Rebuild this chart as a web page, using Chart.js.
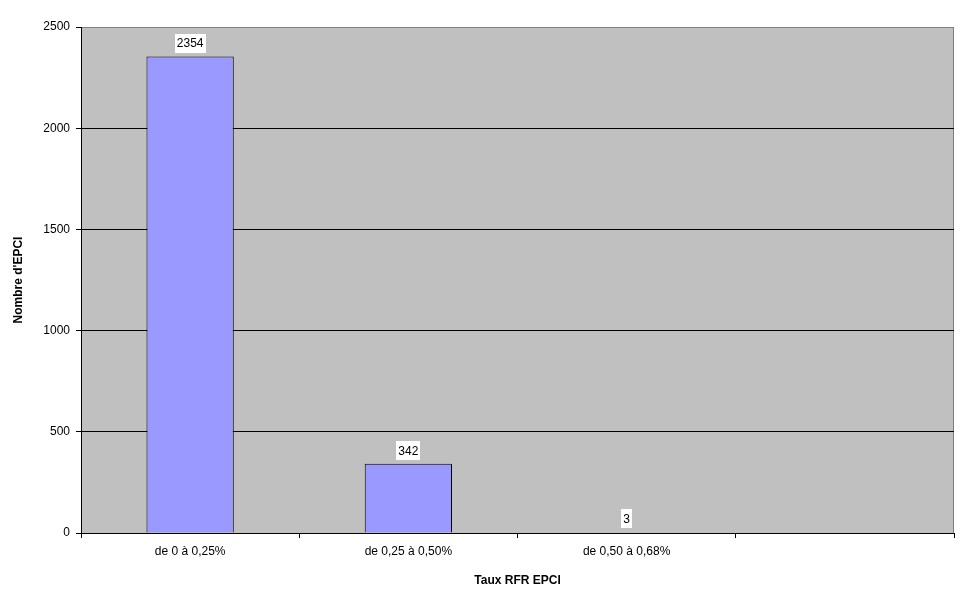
<!DOCTYPE html>
<html>
<head>
<meta charset="utf-8">
<script src="https://cdn.jsdelivr.net/npm/chart.js@4.4.0/dist/chart.umd.min.js"></script>
<style>
    html, body { margin: 0; padding: 0; background: #fff; }
    canvas { display: block; }
</style>
</head>
<body>
<canvas id="myChart" width="970" height="603"></canvas>
<script>
const labels = ['de 0 à 0,25%', 'de 0,25 à 0,50%', 'de 0,50 à 0,68%', ''];
const values = [2354, 342, 3, null];
const yTicks = [0, 500, 1000, 1500, 2000, 2500];

// grey plot background + grey top/right border
const plotBg = {
    id: 'plotBg',
    beforeDraw(chart) {
        const {ctx, chartArea: a} = chart;
        ctx.save();
        ctx.fillStyle = '#C0C0C0';
        ctx.fillRect(a.left, a.top, a.right - a.left, a.bottom - a.top);
        ctx.strokeStyle = '#808080';
        ctx.lineWidth = 1;
        ctx.beginPath();
        ctx.moveTo(a.left, a.top + 0.5);
        ctx.lineTo(a.right - 0.5, a.top + 0.5);
        ctx.lineTo(a.right - 0.5, a.bottom);
        ctx.stroke();
        ctx.restore();
    }
};

// value labels on white boxes above the bars
const valueLabels = {
    id: 'valueLabels',
    afterDatasetsDraw(chart) {
        const {ctx} = chart;
        const meta = chart.getDatasetMeta(0);
        ctx.save();
        ctx.font = '12px "Liberation Sans", Arial, sans-serif';
        ctx.textAlign = 'center';
        ctx.textBaseline = 'middle';
        meta.data.forEach((bar, i) => {
            const v = values[i];
            if (v === null) return;
            const txt = String(v);
            const w = ctx.measureText(txt).width + 4;
            const h = 19;
            const cy = bar.y - 4 - h / 2;
            ctx.fillStyle = '#fff';
            ctx.fillRect(Math.round(bar.x - w / 2), Math.round(cy - h / 2), Math.round(w), h);
            ctx.fillStyle = '#000';
            ctx.fillText(txt, bar.x, cy + 1);
        });
        ctx.restore();
    }
};

const config = {
    type: 'bar',
    data: {
        labels: labels,
        datasets: [{
            data: values,
            backgroundColor: '#9999FF',
            borderColor: '#000',
            borderWidth: 1,
            barPercentage: 0.4,
            categoryPercentage: 1,
        }]
    },
    options: {
        responsive: false,
        animation: false,
        layout: {
            padding: {top: 27, right: 16, left: 0, bottom: 0}
        },
        plugins: {
            legend: {display: false},
            tooltip: {enabled: false}
        },
        scales: {
            x: {
                grid: {
                    drawOnChartArea: false,
                    drawTicks: true,
                    tickLength: 5,
                    color: '#000',
                    offset: true
                },
                border: {color: '#000', width: 1},
                ticks: {
                    color: '#000',
                    padding: 6,
                    maxRotation: 0,
                    font: {family: '"Liberation Sans", Arial, sans-serif', size: 12}
                },
                title: {
                    display: true,
                    text: 'Taux RFR EPCI',
                    color: '#000',
                    font: {family: '"Liberation Sans", Arial, sans-serif', size: 12, weight: 'bold'},
                    padding: {top: 15, bottom: 15}
                },
                afterFit(scale) { scale.height = 70; }
            },
            y: {
                min: 0,
                max: 2500,
                afterBuildTicks(scale) {
                    scale.ticks = yTicks.map(v => ({value: v}));
                },
                grid: {
                    color: (c) => c.tick && c.tick.value === 2500 ? '#808080' : '#000',
                    tickColor: '#000',
                    tickLength: 5
                },
                border: {color: '#000', width: 1},
                ticks: {
                    color: '#000',
                    padding: 6,
                    callback: (v) => String(v),
                    font: {family: '"Liberation Sans", Arial, sans-serif', size: 12}
                },
                title: {
                    display: true,
                    text: "Nombre d'EPCI",
                    color: '#000',
                    font: {family: '"Liberation Sans", Arial, sans-serif', size: 12, weight: 'bold'},
                    padding: {top: 11, bottom: 11}
                },
                afterFit(scale) { scale.width = 81; }
            }
        }
    },
    plugins: [plotBg, valueLabels]
};

const myChart = new Chart(document.getElementById('myChart'), config);
</script>
</body>
</html>
